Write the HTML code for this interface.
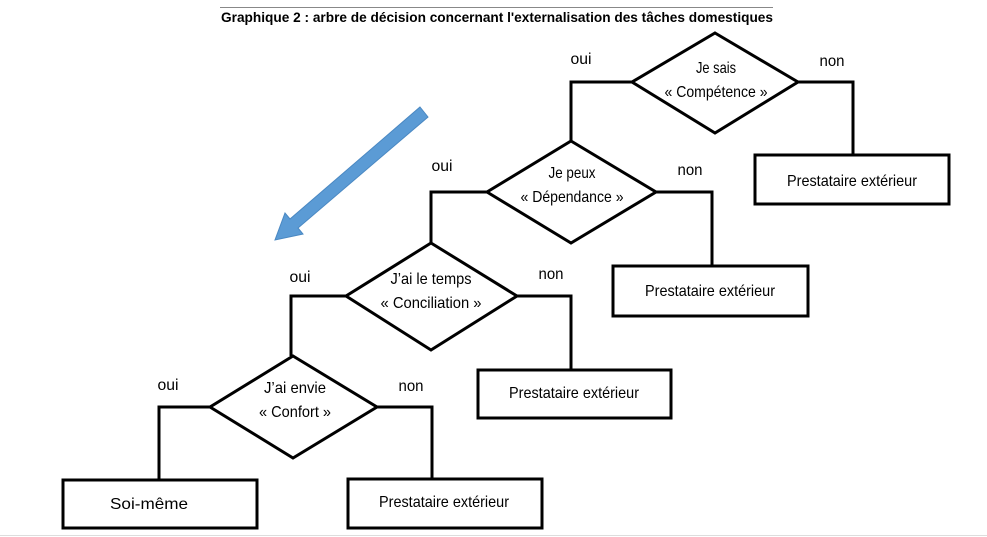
<!DOCTYPE html>
<html><head><meta charset="utf-8"><style>
body{margin:0;background:#fff;}
svg{display:block;}
text{font-family:"Liberation Sans",sans-serif;fill:#000;}
.t{font-size:16px;}
</style></head><body>
<svg width="987" height="537" viewBox="0 0 987 537" xmlns="http://www.w3.org/2000/svg">
<rect width="987" height="537" fill="#fff"/>
<line x1="220" y1="7.5" x2="773" y2="7.5" stroke="#888" stroke-width="1"/>
<text x="497" y="22" font-size="14" font-weight="bold" text-anchor="middle" textLength="552" lengthAdjust="spacingAndGlyphs">Graphique 2 : arbre de décision concernant l'externalisation des tâches domestiques</text>
<g fill="none" stroke="#000" stroke-width="3" stroke-linejoin="miter">
<polygon points="715,33 798,82 715,133 632,82" fill="#fff"/>
<polyline points="632,82 571,82 571,141"/>
<polyline points="798,82 853,82 853,155"/>
<rect x="755" y="155" width="194" height="49"/>
<polygon points="571,141 656,192 571,243 487,192" fill="#fff"/>
<polyline points="656,192 712,192 712,266"/>
<polyline points="487,192 431,192 431,243"/>
<rect x="613" y="266" width="195" height="50"/>
<polygon points="431,243 517,296 431,350 346,296" fill="#fff"/>
<polyline points="517,296 571,296 571,370"/>
<polyline points="346,296 291,296 291,356"/>
<rect x="478" y="370" width="193" height="48"/>
<polygon points="293,356 377,407 293,458 210,407" fill="#fff"/>
<polyline points="377,407 432,407 432,479"/>
<polyline points="210,407 159,407 159,480"/>
<rect x="63" y="480" width="194" height="48"/>
<rect x="348" y="479" width="194" height="49"/>
</g>
<polygon points="420,107 428,117 298,228 303,234 275,240 285,213 290,219" fill="#5b9bd5" stroke="#4a88c2" stroke-width="1"/>
<g class="t">
<text x="581" y="64" text-anchor="middle" textLength="21" lengthAdjust="spacingAndGlyphs">oui</text>
<text x="832" y="66" text-anchor="middle" textLength="25" lengthAdjust="spacingAndGlyphs">non</text>
<text x="716" y="73" text-anchor="middle" textLength="40" lengthAdjust="spacingAndGlyphs">Je sais</text>
<text x="716" y="97" text-anchor="middle" textLength="103" lengthAdjust="spacingAndGlyphs">« Compétence »</text>
<text x="852" y="186" text-anchor="middle" textLength="130" lengthAdjust="spacingAndGlyphs">Prestataire extérieur</text>
<text x="442" y="171" text-anchor="middle" textLength="21" lengthAdjust="spacingAndGlyphs">oui</text>
<text x="690" y="175" text-anchor="middle" textLength="25" lengthAdjust="spacingAndGlyphs">non</text>
<text x="572" y="178" text-anchor="middle" textLength="47" lengthAdjust="spacingAndGlyphs">Je peux</text>
<text x="572" y="202" text-anchor="middle" textLength="103" lengthAdjust="spacingAndGlyphs">« Dépendance »</text>
<text x="710" y="296" text-anchor="middle" textLength="130" lengthAdjust="spacingAndGlyphs">Prestataire extérieur</text>
<text x="300" y="282" text-anchor="middle" textLength="21" lengthAdjust="spacingAndGlyphs">oui</text>
<text x="551" y="279" text-anchor="middle" textLength="25" lengthAdjust="spacingAndGlyphs">non</text>
<text x="431" y="284" text-anchor="middle" textLength="81" lengthAdjust="spacingAndGlyphs">J’ai le temps</text>
<text x="431" y="308" text-anchor="middle" textLength="101" lengthAdjust="spacingAndGlyphs">« Conciliation »</text>
<text x="574" y="398" text-anchor="middle" textLength="130" lengthAdjust="spacingAndGlyphs">Prestataire extérieur</text>
<text x="168" y="390" text-anchor="middle" textLength="21" lengthAdjust="spacingAndGlyphs">oui</text>
<text x="411" y="391" text-anchor="middle" textLength="25" lengthAdjust="spacingAndGlyphs">non</text>
<text x="295" y="393" text-anchor="middle" textLength="62" lengthAdjust="spacingAndGlyphs">J’ai envie</text>
<text x="295" y="417" text-anchor="middle" textLength="72" lengthAdjust="spacingAndGlyphs">« Confort »</text>
<text x="149" y="509" text-anchor="middle" textLength="78" lengthAdjust="spacingAndGlyphs">Soi-même</text>
<text x="444" y="507" text-anchor="middle" textLength="130" lengthAdjust="spacingAndGlyphs">Prestataire extérieur</text>
</g>
<line x1="0" y1="535.5" x2="987" y2="535.5" stroke="#ddd" stroke-width="1"/>
</svg>
</body></html>
